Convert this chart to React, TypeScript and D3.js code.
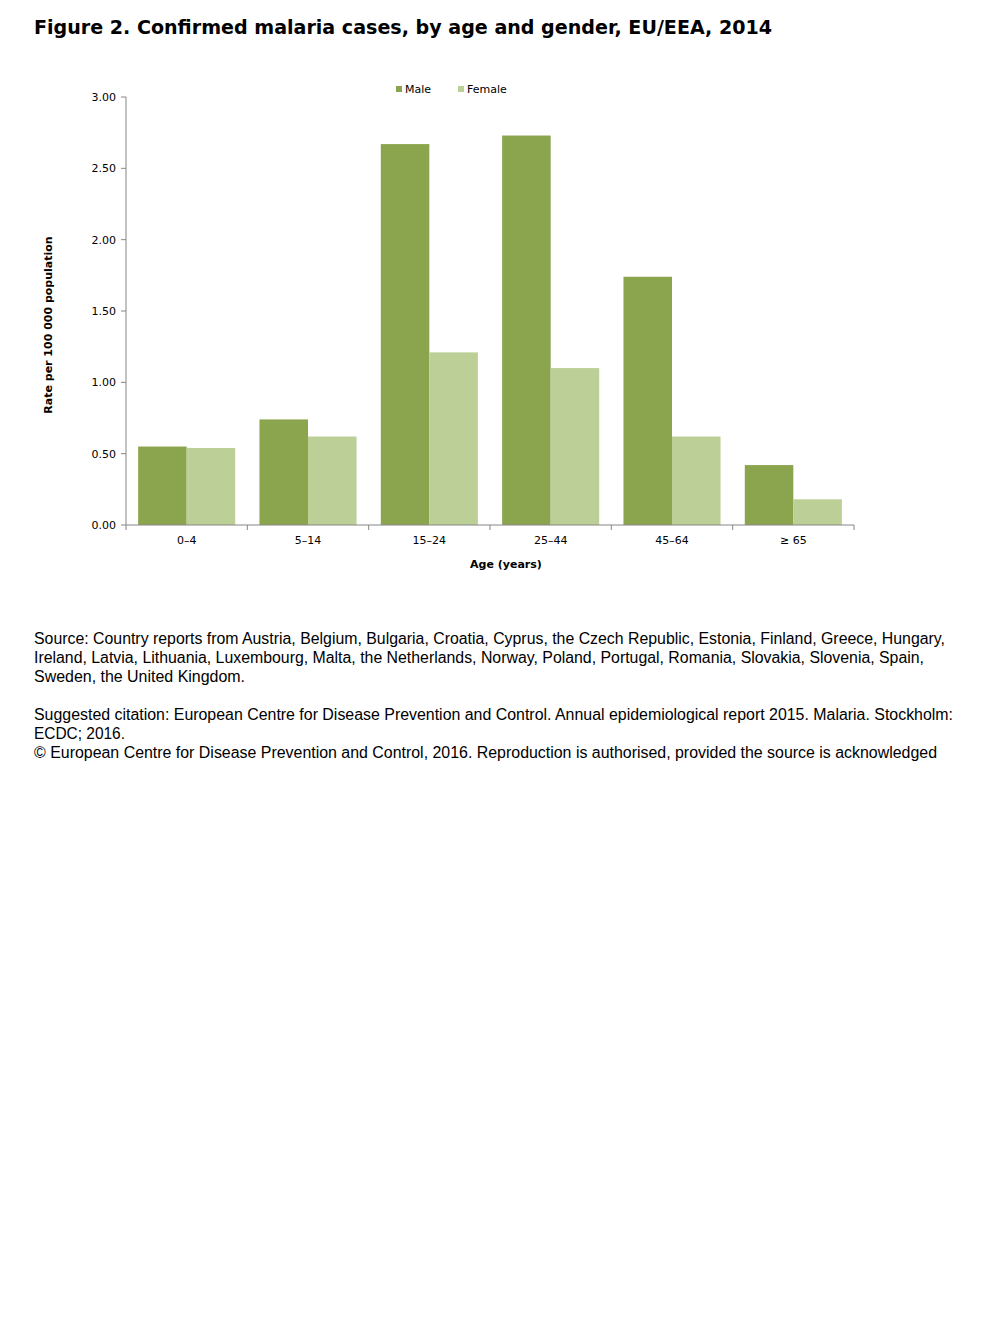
import React from "react";
import * as d3 from "d3";

const categories = ["0\u20134", "5\u201314", "15\u201324", "25\u201344", "45\u201364", "\u2265 65"];
const male = [0.55, 0.74, 2.67, 2.73, 1.74, 0.42];
const female = [0.54, 0.62, 1.21, 1.10, 0.62, 0.18];
const seriesNames = ["Male", "Female"];
const yTicks = [0, 0.5, 1, 1.5, 2, 2.5, 3];
const title = "Figure 2. Confirmed malaria cases, by age and gender, EU/EEA, 2014";
const footLines = [
  "Source: Country reports from Austria, Belgium, Bulgaria, Croatia, Cyprus, the Czech Republic, Estonia, Finland, Greece, Hungary,",
  "Ireland, Latvia, Lithuania, Luxembourg, Malta, the Netherlands, Norway, Poland, Portugal, Romania, Slovakia, Slovenia, Spain,",
  "Sweden, the United Kingdom.",
  "",
  "Suggested citation: European Centre for Disease Prevention and Control. Annual epidemiological report 2015. Malaria. Stockholm:",
  "ECDC; 2016.",
  "\u00a9 European Centre for Disease Prevention and Control, 2016. Reproduction is authorised, provided the source is acknowledged",
];
const footWidths = [911, 890, 211, 0, 919, 91, 903];

const colors = ["#8BA54E", "#BBCF96"];
const font = "Tahoma, 'DejaVu Sans', Verdana, sans-serif";
const footFont = "'Liberation Sans', Arial, sans-serif";

export default function App() {
  const left = 126, right = 854, top = 97, bottom = 525;
  const x = d3.scaleBand<string>().domain(categories).range([left, right]).padding(0);
  const inner = d3.scaleBand<string>().domain(seriesNames).range([0, x.bandwidth()]).paddingInner(0).paddingOuter(0.25);
  const y = d3.scaleLinear().domain([0, 3]).range([bottom, top]);
  const data = [male, female];
  const xTickPos = [...categories.map((c) => x(c)!), right];

  return (
    <svg width={1008} height={1344} style={{ position: "absolute", left: 0, top: 0, background: "#fff" }} fontFamily={font}>
      <text x={34} y={34} fontSize={20} fontWeight="bold" textLength={738} lengthAdjust="spacingAndGlyphs">{title}</text>

      {/* bars */}
      {data.map((vals, si) =>
        vals.map((v, i) => (
          <rect key={`${si}-${i}`} x={x(categories[i])! + inner(seriesNames[si])!} y={y(v)} width={inner.bandwidth()} height={bottom - y(v)} fill={colors[si]} />
        ))
      )}

      {/* y axis */}
      <line x1={left} x2={left} y1={top} y2={bottom} stroke="#868686" strokeWidth={1} />
      {yTicks.map((t) => (
        <g key={t}>
          <line x1={left - 5} x2={left} y1={y(t)} y2={y(t)} stroke="#868686" />
          <text x={116} y={y(t) + 4} fontSize={11} textAnchor="end" fill="#000">{t.toFixed(2)}</text>
        </g>
      ))}

      {/* x axis */}
      <line x1={left} x2={right} y1={bottom} y2={bottom} stroke="#868686" />
      {xTickPos.map((p, i) => (
        <line key={i} x1={p} x2={p} y1={bottom} y2={bottom + 5} stroke="#868686" />
      ))}
      {categories.map((c) => (
        <text key={c} x={x(c)! + x.bandwidth() / 2} y={544} fontSize={11} textAnchor="middle">{c}</text>
      ))}
      <text x={506} y={568} fontSize={11} fontWeight="bold" textAnchor="middle">Age (years)</text>
      <text transform="translate(52,325) rotate(-90)" fontSize={11} fontWeight="bold" textAnchor="middle">Rate per 100 000 population</text>

      {/* legend */}
      {seriesNames.map((s, i) => {
        const lx = i === 0 ? 396 : 458;
        return (
          <g key={s}>
            <rect x={lx} y={86} width={6} height={6} fill={colors[i]} />
            <text x={lx + 9} y={93} fontSize={11}>{s}</text>
          </g>
        );
      })}

      {/* footnotes */}
      {footLines.map((l, i) =>
        l ? (
          <text key={i} x={34} y={644 + i * 19} fontSize={16} fontFamily={footFont} textLength={footWidths[i]} lengthAdjust="spacingAndGlyphs">{l}</text>
        ) : null
      )}
    </svg>
  );
}
